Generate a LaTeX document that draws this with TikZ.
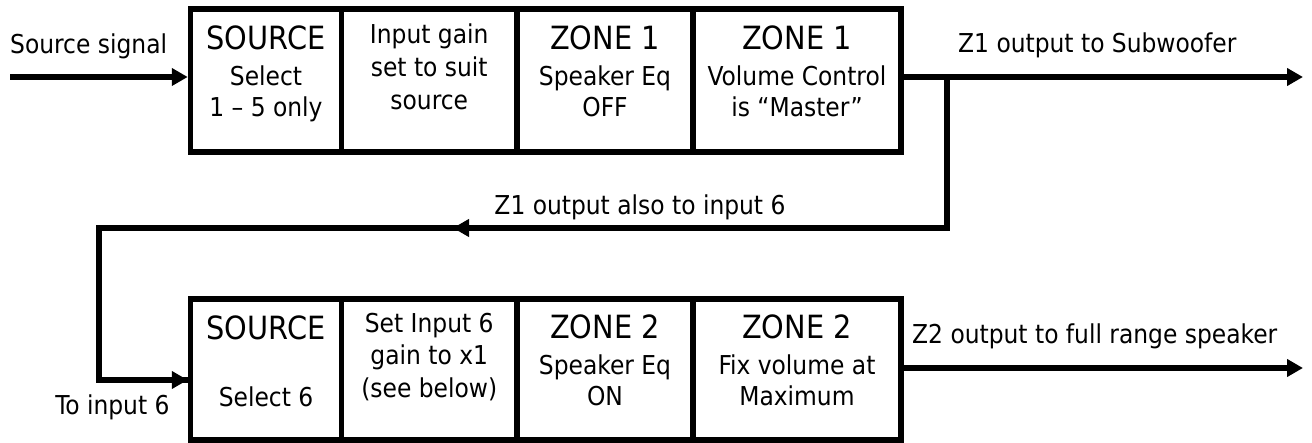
\documentclass[tikz,border=0pt]{standalone}
\usepackage{fontspec}
\setmainfont{DejaVu Sans Condensed}
\usetikzlibrary{arrows.meta}
\newcommand\hdr{\fontsize{32}{36}\selectfont}
\begin{document}
\begin{tikzpicture}[x=1pt,y=-1pt,
  boxtop/.style={draw, line width=5.5pt, minimum height=143pt, inner sep=0pt},
  boxbot/.style={draw, line width=5.5pt, minimum height=141pt, inner sep=0pt},
  boxtxt/.style={align=center, anchor=base, inner sep=0pt, font=\fontsize{26}{31}\selectfont},
  lbl/.style={inner sep=0pt, font=\fontsize{26}{31}\selectfont},
  conn/.style={line width=5.5pt, -{Triangle[length=16pt,width=17pt]}},
  plainline/.style={line width=5.5pt}]
\useasboundingbox (0,0) rectangle (1312,443);

% top row boxes
\node[boxtop, minimum width=151pt]   (sa) at (266,80.5) {};
\node[boxtop, minimum width=175.5pt] (sb) at (429.25,80.5) {};
\node[boxtop, minimum width=176pt]   (sc) at (605,80.5) {};
\node[boxtop, minimum width=208pt]   (sd) at (797,80.5) {};
% bottom row boxes
\node[boxbot, minimum width=151pt]   (za) at (266,369.5) {};
\node[boxbot, minimum width=175.5pt] (zb) at (429.25,369.5) {};
\node[boxbot, minimum width=176pt]   (zc) at (605,369.5) {};
\node[boxbot, minimum width=208pt]   (zd) at (797,369.5) {};

% box texts top (anchor = baseline of last line)
\node[boxtxt] (sat) at ([yshift=-110pt]sa.north) {{\hdr SOURCE}\\[4.5pt]Select\\1 – 5 only};
\node[boxtxt] (sbt) at ([yshift=-103pt]sb.north) {Input gain\\[2pt]set to suit\\[2pt]source};
\node[boxtxt] (sct) at ([yshift=-110pt]sc.north) {{\hdr ZONE 1}\\[4.5pt]Speaker Eq\\OFF};
\node[boxtxt] (sdt) at ([yshift=-110pt]sd.north) {{\hdr ZONE 1}\\[4.5pt]Volume Control\\is “Master”};
% box texts bottom
\node[boxtxt] (zat) at ([yshift=-110pt]za.north) {{\hdr SOURCE}\\[4.5pt]\mbox{}\\Select 6};
\node[boxtxt] (zbt) at ([yshift=-101pt]zb.north) {Set Input 6\\[1.5pt]gain to x1\\[1.5pt](see below)};
\node[boxtxt] (zct) at ([yshift=-109pt]zc.north) {{\hdr ZONE 2}\\[4.5pt]Speaker Eq\\ON};
\node[boxtxt] (zdt) at ([yshift=-109pt]zd.north) {{\hdr ZONE 2}\\[4.5pt]Fix volume at\\Maximum};

% labels
\node[lbl, anchor=base west] (srcsig) at (10,54) {Source signal};
\node[lbl, anchor=base west] (z1lbl) at (958,53) {Z1 output to Subwoofer};
\node[lbl, anchor=base west] (z2lbl) at (912,344) {Z2 output to full range speaker};
\node[lbl, anchor=base] (looplbl) at (640,215) {Z1 output also to input 6};
\node[lbl, anchor=base] (toin) at (112.5,415) {To input 6};

% coordinates
\coordinate (srcstart) at (10,77);
\coordinate (z1end) at (1303,77);
\coordinate (z2end) at (1303,368);
\coordinate (j) at (947,77);
\coordinate (c1) at (947,228);
\coordinate (c2) at (99,228);
\coordinate (c3) at (99,380);
\coordinate (mid) at (453,228);

% connectors
\draw[conn] (srcstart) -- (srcstart -| sa.west);
\draw[conn] (z1end -| sd.east) -- (z1end);
\draw[conn] (z2end -| zd.east) -- (z2end);
\draw[plainline] (j) -- (c1) -- (c2) -- (c3) -- (c3 -| za.west);
\draw[conn] (c3) -- (c3 -| za.west);
\draw[conn] (c1) -- (mid);
\end{tikzpicture}
\end{document}
